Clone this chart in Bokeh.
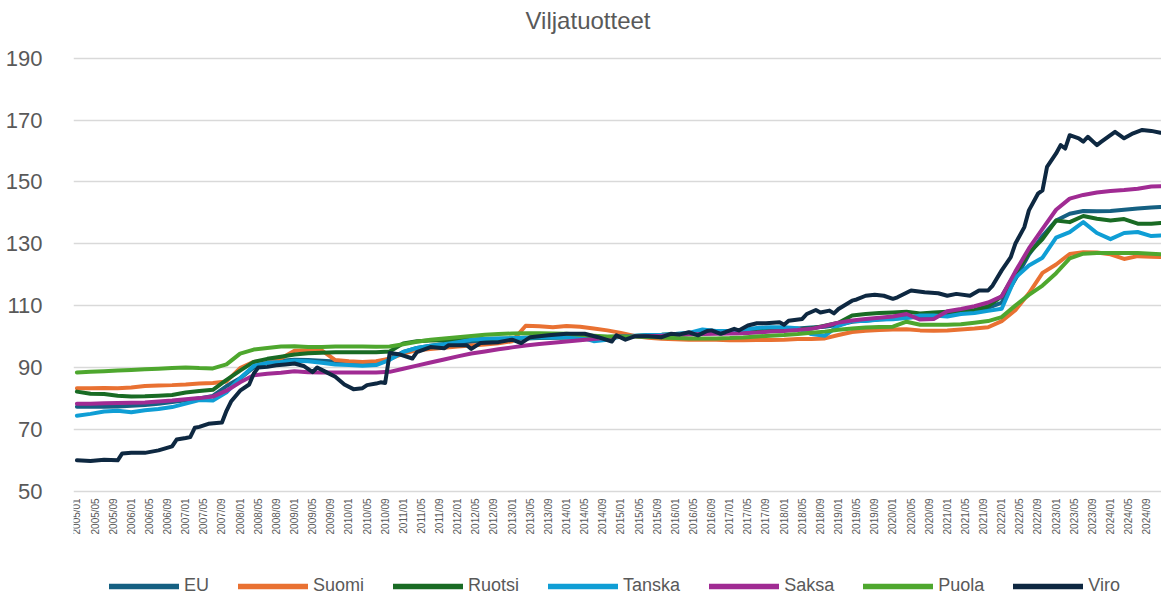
import math
from bokeh.plotting import figure
from bokeh.models import Range1d, FixedTicker, Legend, LegendItem, ColumnDataSource
from bokeh.core.properties import value
from bokeh.embed import file_html
from bokeh.resources import INLINE

# ---- categories -------------------------------------------------------
periods = [f"{2005 + i // 12}/{i % 12 + 1:02d}" for i in range(240)]   # 2005/01 .. 2024/12
tick_labels = periods[::4]                                            # every 4th month shown
quarter_months = periods[::3] + [periods[-1]]                         # sampling of the smooth series

y_ticks = [50, 70, 90, 110, 130, 150, 170, 190]
title_text = "Viljatuotteet"

# ---- series values (index, 2015 = 100) --------------------------------
eu = [77.3, 77.3, 77.3, 77.4, 77.6, 77.9, 78.3, 78.8, 79.4, 80.0, 80.8, 84.0,
      86.5, 90.0, 91.5, 92.2, 92.5, 92.4, 92.2, 91.9, 91.6, 91.5, 91.7, 92.8,
      95.0, 96.3, 97.0, 97.6, 98.0, 98.3, 98.7, 99.0, 99.2, 99.4, 99.5, 99.6,
      99.7, 99.8, 99.8, 99.9, 100.0, 100.2, 100.3, 100.5, 100.6, 100.8, 101.0, 101.2,
      101.4, 101.6, 101.9, 102.1, 102.3, 102.6, 102.9, 103.2, 103.8, 104.8, 105.2, 105.5,
      105.8, 106.2, 106.3, 106.5, 107.0, 107.8, 108.3, 109.3, 111.0, 118.5, 126.5, 132.5,
      137.5, 139.7, 140.6, 140.5, 140.6, 141.0, 141.4, 141.7, 141.9]
suomi = [83.3, 83.3, 83.4, 83.3, 83.5, 84.0, 84.2, 84.3, 84.5, 84.8, 85.0, 85.5,
         89.8, 91.8, 92.3, 92.9, 95.4, 95.6, 95.5, 92.4, 92.0, 91.8, 92.0, 92.8,
         94.5, 95.6, 96.0, 96.4, 96.8, 97.1, 97.4, 97.8, 98.5, 103.5, 103.3, 103.0,
         103.4, 103.2, 102.6, 102.0, 101.2, 100.2, 99.6, 99.3, 99.1, 99.0, 99.0, 99.0,
         98.8, 98.8, 98.9, 98.9, 99.0, 99.2, 99.2, 99.4, 100.5, 101.5, 101.9, 102.1,
         102.3, 102.4, 102.0, 101.9, 102.0, 102.3, 102.6, 103.0, 105.0, 108.5, 114.0, 120.6,
         123.3, 126.7, 127.3, 127.2, 126.6, 125.1, 126.0, 125.8, 125.7]
ruotsi = [82.2, 81.5, 81.4, 80.9, 80.6, 80.7, 80.9, 81.1, 81.9, 82.4, 82.8, 86.0,
          89.0, 91.8, 92.8, 93.5, 94.2, 94.6, 94.8, 94.9, 94.9, 94.9, 94.9, 95.2,
          97.8, 98.5, 98.7, 98.8, 98.9, 99.0, 99.2, 99.3, 99.4, 99.6, 99.7, 99.8,
          99.8, 99.8, 99.9, 99.8, 100.0, 100.2, 100.5, 100.6, 100.8, 101.0, 101.2, 101.3,
          101.5, 101.7, 101.9, 102.0, 102.2, 102.4, 102.6, 103.5, 104.5, 106.8, 107.3, 107.6,
          107.8, 108.0, 107.5, 107.8, 108.0, 108.2, 108.6, 109.8, 113.0, 120.5, 127.0, 131.5,
          137.5, 137.0, 139.0, 138.1, 137.5, 138.0, 136.5, 136.5, 136.7]
tanska = [74.4, 75.0, 75.8, 76.0, 75.5, 76.2, 76.6, 77.2, 78.3, 79.5, 79.3, 82.0,
          86.5, 90.5, 91.5, 91.8, 92.2, 92.0, 91.5, 91.0, 90.8, 90.6, 90.8, 92.5,
          95.0, 96.3, 97.0, 97.5, 98.2, 99.0, 99.3, 99.4, 99.5, 99.6, 99.7, 99.7,
          99.8, 99.8, 98.5, 99.0, 100.0, 100.3, 100.5, 100.6, 100.8, 101.2, 102.3, 101.8,
          101.8, 102.2, 102.8, 103.0, 103.0, 102.7, 100.8, 100.3, 103.5, 105.0, 105.0, 105.5,
          105.6, 106.0, 106.8, 106.8, 106.5, 107.3, 107.6, 108.3, 109.0, 119.0, 123.0, 125.5,
          132.0, 133.8, 137.0, 133.5, 131.5, 133.5, 133.8, 132.5, 132.7]
saksa = [78.3, 78.3, 78.4, 78.5, 78.6, 78.7, 79.0, 79.3, 79.7, 80.1, 80.6, 82.5,
         85.2, 87.5, 88.0, 88.3, 88.8, 88.5, 88.4, 88.4, 88.4, 88.4, 88.4, 88.6,
         89.6, 90.6, 91.6, 92.6, 93.6, 94.5, 95.2, 95.9, 96.5, 97.1, 97.6, 98.0,
         98.4, 98.8, 99.2, 99.6, 100.0, 100.1, 100.2, 100.3, 100.5, 100.7, 100.8, 100.9,
         101.0, 101.1, 101.3, 101.6, 101.8, 102.1, 102.5, 103.4, 104.5, 105.2, 105.7, 106.1,
         106.5, 107.3, 105.5, 105.7, 108.2, 108.9, 109.8, 111.0, 113.0, 121.0, 128.5, 134.8,
         141.0, 144.6, 145.8, 146.6, 147.1, 147.4, 147.8, 148.5, 148.6]
puola = [88.4, 88.6, 88.8, 89.0, 89.2, 89.4, 89.6, 89.8, 90.0, 89.8, 89.7, 91.0,
         94.5, 95.8, 96.3, 96.8, 96.9, 96.6, 96.6, 96.8, 96.8, 96.8, 96.7, 96.8,
         97.5, 98.3, 99.0, 99.4, 99.8, 100.2, 100.6, 100.8, 101.0, 101.1, 101.1, 101.0,
         100.9, 100.6, 100.3, 100.0, 100.0, 100.0, 99.9, 99.7, 99.5, 99.4, 99.4, 99.4,
         99.5, 99.7, 100.0, 100.3, 100.5, 100.8, 101.2, 101.6, 102.2, 102.6, 102.9, 103.1,
         103.2, 104.8, 103.8, 103.8, 103.8, 104.0, 104.5, 105.0, 106.3, 110.0, 113.5, 116.5,
         120.5, 125.3, 126.8, 127.0, 127.0, 127.0, 127.0, 126.8, 126.6]

viro_months = ["2005/01", "2005/04", "2005/07", "2005/10", "2005/11", "2006/01", "2006/04", "2006/07",
               "2006/10", "2006/11", "2007/01", "2007/02", "2007/03", "2007/04", "2007/06", "2007/09",
               "2007/10", "2007/11", "2008/01", "2008/03", "2008/04", "2008/05", "2008/07", "2008/09",
               "2008/11", "2009/01", "2009/03", "2009/05", "2009/06", "2009/08", "2009/10", "2009/12",
               "2010/02", "2010/04", "2010/05", "2010/07", "2010/08", "2010/09", "2010/10", "2010/12",
               "2011/03", "2011/04", "2011/07", "2011/10", "2011/11", "2012/03", "2012/04", "2012/06",
               "2012/10", "2013/01", "2013/03", "2013/05", "2013/09", "2014/01", "2014/05", "2014/08",
               "2014/11", "2014/12", "2015/02", "2015/04", "2015/07", "2015/10", "2015/12", "2016/02",
               "2016/04", "2016/06", "2016/08", "2016/09", "2016/11", "2016/12", "2017/02", "2017/03",
               "2017/05", "2017/07", "2017/09", "2017/12", "2018/01", "2018/02", "2018/05", "2018/06",
               "2018/08", "2018/09", "2018/11", "2018/12", "2019/01", "2019/04", "2019/05", "2019/07",
               "2019/09", "2019/11", "2020/01", "2020/02", "2020/05", "2020/08", "2020/11", "2021/01",
               "2021/03", "2021/06", "2021/08", "2021/10", "2021/11", "2022/01", "2022/03", "2022/04",
               "2022/06", "2022/07", "2022/09", "2022/10", "2022/11", "2023/01", "2023/02", "2023/03",
               "2023/04", "2023/06", "2023/07", "2023/08", "2023/10", "2023/11", "2024/02", "2024/04",
               "2024/06", "2024/08", "2024/10", "2024/12"]
viro = [60.0, 59.8, 60.2, 60.0, 62.2, 62.4, 62.4, 63.2,
        64.5, 66.7, 67.2, 67.5, 70.5, 70.8, 71.8, 72.2,
        76.0, 79.0, 82.5, 84.5, 88.0, 90.0, 90.2, 90.7,
        91.0, 91.3, 90.5, 88.5, 90.0, 88.5, 87.0, 84.5,
        83.0, 83.3, 84.3, 84.8, 85.2, 85.0, 94.7, 94.3,
        92.9, 95.0, 96.6, 96.2, 97.2, 97.2, 96.0, 97.9,
        98.2, 99.0, 97.9, 99.8, 100.4, 100.9, 100.9, 99.8,
        98.4, 100.4, 99.0, 100.1, 100.1, 99.8, 100.9, 100.7,
        101.4, 100.4, 101.8, 102.0, 100.9, 101.4, 102.5, 102.0,
        103.6, 104.3, 104.3, 104.6, 103.8, 105.1, 105.7, 107.3,
        108.6, 107.8, 108.4, 107.5, 108.9, 111.6, 112.0, 113.2,
        113.5, 113.2, 112.2, 112.7, 114.9, 114.3, 114.0, 113.2,
        113.8, 113.2, 114.9, 114.9, 116.5, 121.4, 125.7, 130.0,
        135.4, 140.8, 146.2, 147.3, 154.9, 159.2, 161.9, 160.8,
        165.1, 164.1, 163.0, 164.6, 161.9, 163.0, 166.2, 164.1,
        165.7, 166.8, 166.5, 165.9]

series = [("EU", quarter_months, eu, "#156082"),
          ("Suomi", quarter_months, suomi, "#E97132"),
          ("Ruotsi", quarter_months, ruotsi, "#196B24"),
          ("Tanska", quarter_months, tanska, "#0F9ED5"),
          ("Saksa", quarter_months, saksa, "#A02B93"),
          ("Puola", quarter_months, puola, "#4EA72E"),
          ("Viro", viro_months, viro, "#0E2841")]

pos = {m: i for i, m in enumerate(periods)}
TEXT = "#595959"
FONT = "Liberation Sans"

# The plotting frame covers the whole canvas right of the value axis; the
# value range is padded so that 50..190 sits where the reference draws it,
# leaving room inside the frame for title, month labels and legend.
p = figure(width=1161, height=601, output_backend="svg", toolbar_location=None,
           x_range=Range1d(-0.75, 239.25), y_range=Range1d(14.34, 208.66),
           x_axis_location=None,
           min_border_left=73, min_border_right=0, min_border_top=0, min_border_bottom=0)

p.outline_line_color = None
p.background_fill_color = "white"
p.border_fill_color = "white"

# y axis
p.yaxis.ticker = FixedTicker(ticks=y_ticks)
p.yaxis.major_label_text_font = FONT
p.yaxis.major_label_text_font_size = "22px"
p.yaxis.major_label_text_color = TEXT
p.yaxis.major_label_standoff = 25
p.yaxis.axis_line_color = None
p.yaxis.major_tick_line_color = None
p.yaxis.minor_tick_line_color = None

p.xgrid.visible = False
p.ygrid.ticker = FixedTicker(ticks=y_ticks)
p.ygrid.grid_line_color = "#D9D9D9"
p.ygrid.grid_line_width = 1.5

# title
p.text(x=[112.75], y=[202.2], text=[title_text], text_font=value(FONT), text_font_size="24px",
       text_color=TEXT, text_align="center", text_baseline="middle")

# month labels, rotated, under the 50 line
tick_x = [pos[t] for t in tick_labels]
p.text(x=tick_x, y=[47.7] * len(tick_x), text=tick_labels, angle=math.pi / 2,
       text_font=value(FONT), text_font_size="10px", text_color=TEXT,
       text_align="right", text_baseline="middle")

items = []
for name, months, vals, col in series:
    src = ColumnDataSource(dict(x=[pos[m] for m in months], y=vals))
    p.line("x", "y", source=src, line_color=col, line_width=4, line_join="round", line_cap="round")
    # legend swatch: same colour, a little heavier as in the reference (no visible data)
    key = p.line(x=[float("nan")], y=[float("nan")], line_color=col, line_width=5.5, line_cap="round")
    items.append(LegendItem(label=name, renderers=[key]))

legend = Legend(items=items, orientation="horizontal", location=(36, 5))
legend.label_text_font = FONT
legend.label_text_font_size = "18px"
legend.label_text_color = TEXT
legend.glyph_width = 70
legend.glyph_height = 18
legend.label_standoff = 5
legend.spacing = 29
legend.padding = 4
legend.margin = 0
legend.border_line_color = None
legend.background_fill_alpha = 0
p.add_layout(legend)

open("out.html", "w").write(file_html(p, INLINE))
